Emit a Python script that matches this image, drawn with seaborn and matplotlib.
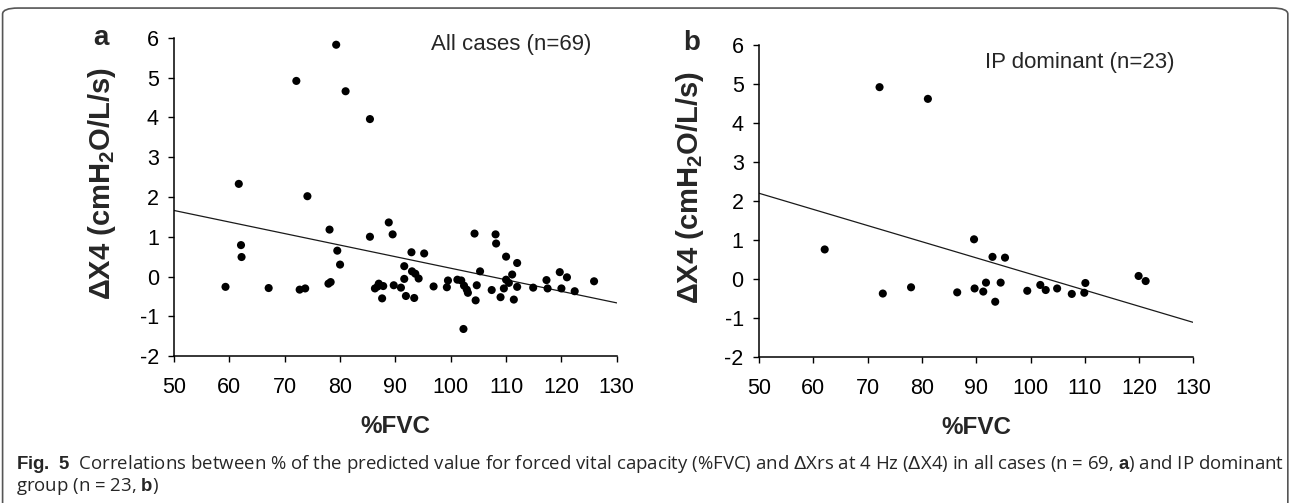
import matplotlib
matplotlib.use("Agg")
import matplotlib.pyplot as plt
from matplotlib.patches import FancyBboxPatch
import pandas as pd
import seaborn as sns

# %FVC y dX4 (panel a: todos los casos)
fvc_todos = [79.3, 72.1, 81.0, 85.4, 61.7, 74.1, 78.1, 62.1, 62.2, 79.5,
             80.0, 59.3, 67.1, 72.7, 73.7, 77.9, 78.3, 88.8, 85.4, 89.5,
             92.9, 95.2, 91.6, 93.0, 93.6, 94.2, 91.6, 86.3, 87.0, 87.8,
             86.8, 87.6, 89.7, 91.0, 91.9, 93.4, 96.9, 99.3, 99.5, 101.2,
             101.9, 102.4, 102.9, 103.1, 102.3, 104.3, 105.3, 104.7, 104.5, 107.4,
             108.1, 108.2, 110.0, 112.0, 111.1, 110.0, 110.5, 109.6, 109.0, 111.4,
             112.0, 114.9, 117.3, 117.5, 119.7, 121.0, 120.0, 122.4, 125.9]
dx4_todos = [5.83, 4.92, 4.66, 3.96, 2.33, 2.02, 1.18, 0.79, 0.49, 0.65,
             0.30, -0.26, -0.29, -0.33, -0.30, -0.18, -0.14, 1.36, 1.00, 1.06,
             0.61, 0.58, 0.26, 0.13, 0.07, -0.05, -0.06, -0.30, -0.18, -0.24,
             -0.25, -0.55, -0.22, -0.28, -0.49, -0.54, -0.25, -0.27, -0.10, -0.08,
             -0.10, -0.23, -0.33, -0.41, -1.32, 1.08, 0.13, -0.22, -0.60, -0.34,
             1.06, 0.83, 0.50, 0.34, 0.05, -0.08, -0.16, -0.30, -0.52, -0.58,
             -0.26, -0.28, -0.09, -0.30, 0.11, -0.02, -0.30, -0.37, -0.12]

# panel b: IP dominante
fvc_ip = [72.2, 81.1, 62.1, 72.8, 78.0, 86.5, 89.6, 89.7, 91.3, 91.8,
          93.0, 95.3, 93.5, 94.5, 99.4, 101.8, 102.8, 104.9, 107.6, 109.9,
          110.1, 119.9, 121.2]
dx4_ip = [4.92, 4.62, 0.76, -0.37, -0.21, -0.34, 1.02, -0.24, -0.32, -0.09,
          0.57, 0.55, -0.58, -0.09, -0.30, -0.15, -0.28, -0.24, -0.38, -0.35,
          -0.10, 0.08, -0.05]

ticks_x = [50, 60, 70, 80, 90, 100, 110, 120, 130]
ticks_y = [-2, -1, 0, 1, 2, 3, 4, 5, 6]

sns.set_style("ticks")
plt.rcParams["font.family"] = ["Liberation Sans", "DejaVu Sans"]
plt.rcParams["axes.unicode_minus"] = False
plt.rcParams["mathtext.fontset"] = "custom"
plt.rcParams["mathtext.rm"] = "Liberation Sans"
plt.rcParams["mathtext.bf"] = "Liberation Sans:bold"

fig = plt.figure(figsize=(12.93, 5.03), dpi=100)
ax_a = fig.add_axes([0.1346, 0.2922, 0.3424, 0.6323])
ax_b = fig.add_axes([0.587, 0.290, 0.336, 0.6205])

paneles = [
    (ax_a, fvc_todos, dx4_todos, "All cases (n=69)", (96.5, 5.83), "a", (0.078, 0.924), -0.126),
    (ax_b, fvc_ip, dx4_ip, "IP dominant (n=23)", (91.7, 5.56), "b", (0.535, 0.915), -0.122),
]

for ax, xs, ys, etiqueta, pos_texto, letra, pos_letra, x_ylabel in paneles:
    df = pd.DataFrame({"fvc": xs, "dx4": ys})
    ax.set_xlim(50, 130)
    ax.set_ylim(-2, 6)
    sns.scatterplot(data=df, x="fvc", y="dx4", ax=ax, color="black",
                    s=34, edgecolor="none", zorder=3)
    sns.regplot(data=df, x="fvc", y="dx4", ax=ax, scatter=False, ci=None,
                truncate=False, color="#1a1a1a", line_kws={"linewidth": 0.9})
    ax.set_xlim(50, 130)
    ax.set_ylim(-2, 6)
    ax.set_xticks(ticks_x)
    ax.set_yticks(ticks_y)
    ax.tick_params(axis="both", labelsize=15.5, colors="black", length=4, width=1)
    ax.tick_params(axis="x", pad=11)
    ax.tick_params(axis="y", pad=7)
    for lado in ["left", "bottom"]:
        ax.spines[lado].set_color("black")
        ax.spines[lado].set_linewidth(1.1)
    sns.despine(ax=ax)
    ax.set_xlabel("%FVC", fontsize=17.5, fontweight="bold", labelpad=12)
    ax.set_ylabel(r"$\mathbf{\Delta}$X4 (cmH$_\mathbf{2}$O/L/s)",
                  fontsize=21, fontweight="bold")
    ax.yaxis.set_label_coords(x_ylabel, 0.542)
    ax.text(pos_texto[0], pos_texto[1], etiqueta, fontsize=16, va="center", ha="left")
    fig.text(pos_letra[0], pos_letra[1], letra, fontsize=20, fontweight="bold",
             ha="center", va="center")

# pie de figura
fig.text(0.0124, 0.077,
         r"$\mathbf{Fig.\ 5}$  Correlations between % of the predicted value for forced vital "
         r"capacity (%FVC) and $\Delta$Xrs at 4 Hz ($\Delta$X4) in all cases (n = 69, $\mathbf{a}$) "
         r"and IP dominant",
         fontsize=13.4, family=["Open Sans", "DejaVu Sans"], va="center", ha="left")
fig.text(0.0124, 0.032, r"group (n = 23, $\mathbf{b}$)",
         fontsize=13.4, family=["Open Sans", "DejaVu Sans"], va="center", ha="left")

marco = FancyBboxPatch((0.002, -0.05), 0.994, 1.034,
                       boxstyle="round,pad=0,rounding_size=0.012",
                       transform=fig.transFigure, fill=False,
                       edgecolor="#555555", linewidth=1.2, clip_on=False)
fig.patches.append(marco)

fig.savefig("out.png", dpi=100)
